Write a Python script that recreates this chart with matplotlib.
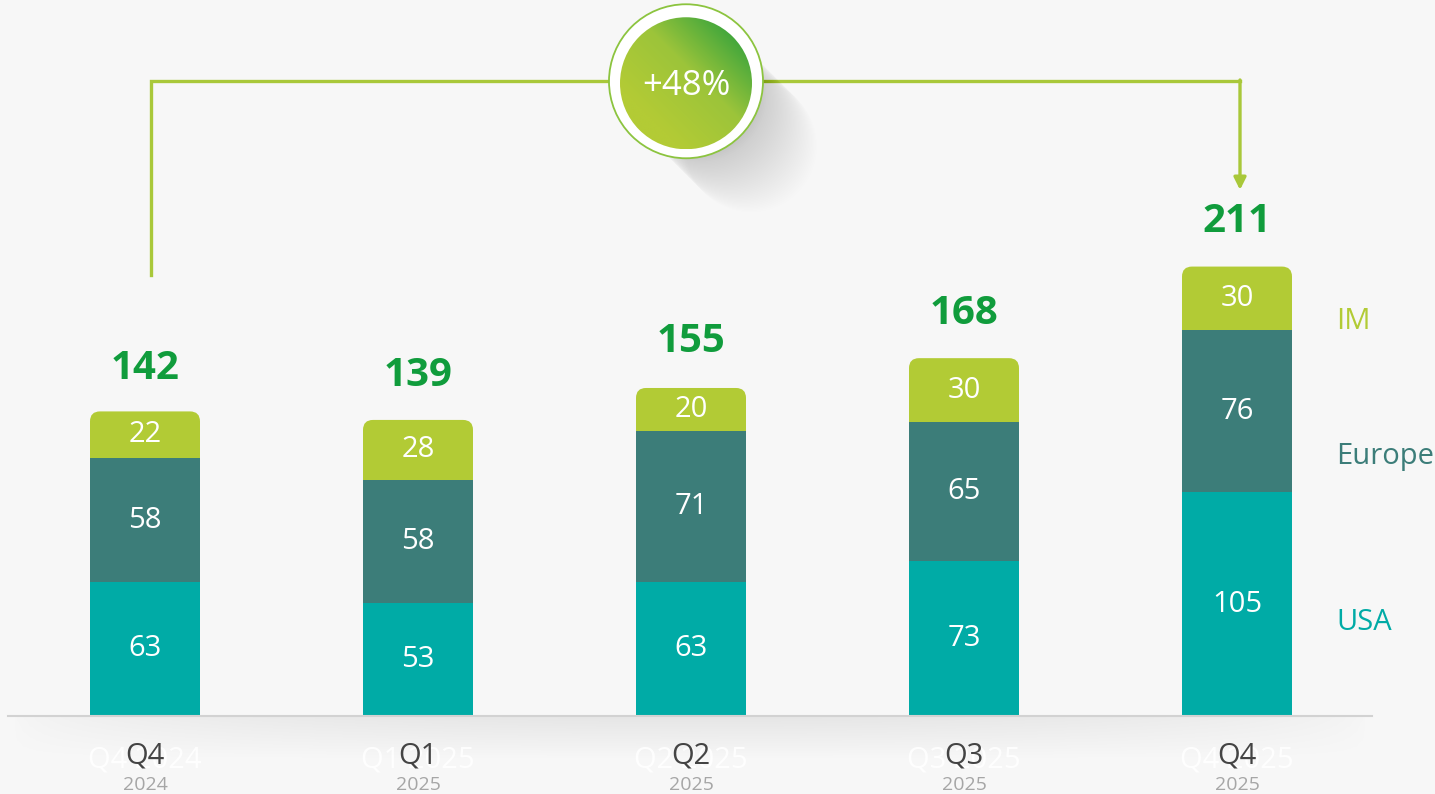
import numpy as np
import matplotlib
matplotlib.use("Agg")
import matplotlib.pyplot as plt
from matplotlib.patches import FancyBboxPatch, Ellipse
from matplotlib.colors import LinearSegmentedColormap

#***** Data *****#
quarters = ["Q4", "Q1", "Q2", "Q3", "Q4"]
years = ["2024", "2025", "2025", "2025", "2025"]
usa = [63, 53, 63, 73, 105]
europe = [58, 58, 71, 65, 76]
im = [22, 28, 20, 30, 30]
totals = [142, 139, 155, 168, 211]
growth_label = "+48%"
series_names = ["IM", "Europe", "USA"]

#***** Styles *****#
c_usa = "#00aba6"
c_eur = "#3c7d79"
c_im = "#b2cb35"
c_total = "#109c3c"
c_line = "#a9c83a"
bg = "#f7f7f7"
plt.rcParams["font.family"] = ["Open Sans", "DejaVu Sans"]

W, H = 1435, 794
px_x = 273.0   # pixels per bar slot
px_y = 2.13    # pixels per unit
x0_px, base_px = 145, 716

fig = plt.figure(figsize=(W / 100, H / 100), dpi=100)
fig.patch.set_facecolor(bg)
ax = fig.add_axes([0, 0, 1, 1])
ax.set_facecolor(bg)
ax.set_xlim(-x0_px / px_x, (W - x0_px) / px_x)
ax.set_ylim((base_px - H) / px_y, base_px / px_y)
ax.axis("off")

x = np.arange(len(quarters))
bw = 110 / px_x

# IM segment with rounded top, drawn first and partly hidden by Europe
rx = 10 / px_x
asp = (10 / px_y) / rx
bottoms_im = np.array(usa) + np.array(europe)
for xi, b, v in zip(x, bottoms_im, im):
    p = FancyBboxPatch((xi - bw / 2, b - 8), bw, v + 8,
                       boxstyle="round,pad=0,rounding_size=%f" % rx,
                       mutation_aspect=asp, fc=c_im, ec="none", zorder=2)
    ax.add_patch(p)
ax.bar(x, europe, bw, bottom=usa, color=c_eur, zorder=3)
ax.bar(x, usa, bw, color=c_usa, zorder=3)

# segment values
for xi, u, e, m in zip(x, usa, europe, im):
    ax.text(xi, u / 2, str(u), color="white", fontsize=21, ha="center", va="center", zorder=5)
    ax.text(xi, u + e / 2, str(e), color="white", fontsize=21, ha="center", va="center", zorder=5)
    ax.text(xi, u + e + m / 2, str(m), color="white", fontsize=21, ha="center", va="center", zorder=5)

# totals
for xi, t in zip(x, totals):
    ax.text(xi, t + 21, str(t), color=c_total, fontsize=29, fontweight="bold",
            ha="center", va="center", zorder=5)

# baseline + soft shadow under it
ax.plot([(8 - x0_px) / px_x, (1372 - x0_px) / px_x], [0, 0], color="#d2d2d2", lw=1.5, zorder=4)
sh = np.zeros((40, 200, 4))
fade_y = np.linspace(0.07, 0, 40)[:, None]
fade_x = np.sin(np.linspace(0, np.pi, 200))[None, :] ** 0.5
sh[..., 3] = fade_y * fade_x
ax.imshow(sh, extent=[(8 - x0_px) / px_x, (1372 - x0_px) / px_x, -45 / px_y, -1 / px_y],
          aspect="auto", origin="upper", zorder=1)

# x labels (with the faint white duplicate behind)
for xi, q, yr in zip(x, quarters, years):
    ax.text(xi, -44 / px_y, q + " " + yr, color="white", alpha=0.9, fontsize=21,
            ha="center", va="center", zorder=2)
    ax.text(xi, -40 / px_y, q, color="#444444", fontsize=21, ha="center", va="center", zorder=3)
    ax.text(xi, -69 / px_y, yr, color="#a6a6a6", fontsize=14, ha="center", va="center", zorder=3)

# series labels on the right
lab_y = [185, 122, 44]
lab_c = [c_im, c_eur, c_usa]
for name, yv, c in zip(series_names, lab_y, lab_c):
    ax.text(x[-1] + 99 / px_x, yv, name, color=c, fontsize=21, ha="left", va="center")

# growth connector
top_y = 298
left_start = totals[0] + 65
tip = totals[-1] + 36
xa = x[0] + 6 / px_x
xb = x[-1] + 3 / px_x
ax.plot([xa, xa, xb], [left_start, top_y, top_y], color=c_line, lw=2.4, zorder=1,
        solid_joinstyle="miter")
ax.annotate("", xy=(xb, tip), xytext=(xb, top_y + 0.6),
            arrowprops=dict(arrowstyle="-|>", color=c_line, lw=2.4, mutation_scale=18,
                            shrinkA=0, shrinkB=0), zorder=1)

# badge
cx = x[2] - 5 / px_x
cy = top_y
r_out, r_in = 77, 66
for k in range(1, 70):
    s = Ellipse((cx + k * 1.3 / px_x, cy - k * 1.3 / px_y), 2 * r_in / px_x, 2 * r_in / px_y,
                fc="black", ec="none", alpha=0.007 * (1 - k / 70), zorder=6)
    ax.add_patch(s)
outer = Ellipse((cx, cy), 2 * r_out / px_x, 2 * r_out / px_y, fc="white",
                ec="#8cc43f", lw=1.3, zorder=7)
ax.add_patch(outer)
inner = Ellipse((cx, cy - 2 / px_y), 2 * r_in / px_x, 2 * r_in / px_y, fc="none",
                ec="none", zorder=8)
ax.add_patch(inner)
gx, gy = np.meshgrid(np.linspace(0, 1, 200), np.linspace(0, 1, 200))
grad = np.clip((gx + (1 - gy)) / 2 * 1.5 - 0.35, 0, 1)
cmap = LinearSegmentedColormap.from_list("g", ["#b3cb35", "#9cc43a", "#36a33c"])
im_art = ax.imshow(grad, cmap=cmap, origin="upper", aspect="auto", zorder=8,
                   extent=[cx - r_in / px_x, cx + r_in / px_x,
                           cy - (r_in + 2) / px_y, cy + (r_in - 2) / px_y])
im_art.set_clip_path(inner)
ax.text(cx, cy - 5 / px_y, growth_label, color="white", fontsize=25, ha="center",
        va="center", zorder=9)

fig.savefig("out.png", dpi=100, facecolor=bg)
